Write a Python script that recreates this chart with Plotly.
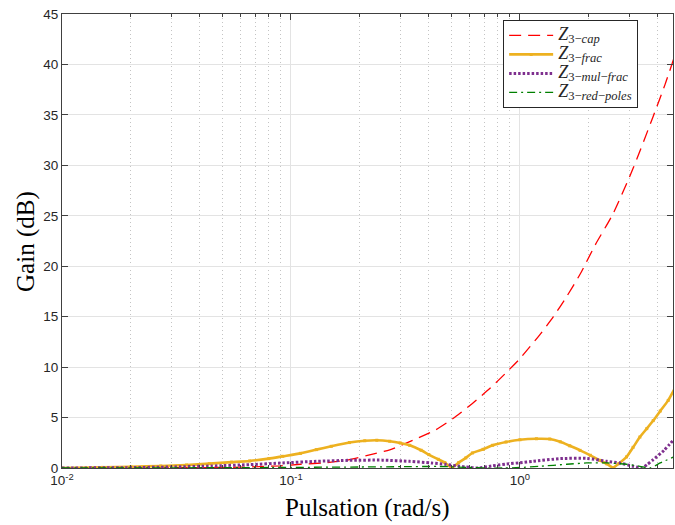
import plotly.graph_objects as go
import numpy as np

# ---- data ----
w_cap = [0.01, 0.02, 0.03, 0.045, 0.06, 0.073, 0.09, 0.11, 0.143, 0.18, 0.23, 0.27, 0.34,
         0.43, 0.51, 0.62, 0.74, 0.875, 1.0, 1.22, 1.4, 1.6, 1.83, 2.13, 2.55, 3.12, 3.81, 4.3, 4.75]
g_cap = [0.0, 0.01, 0.02, 0.05, 0.08, 0.14, 0.22, 0.37, 0.53, 0.83, 1.4, 1.8, 2.75,
         3.8, 4.9, 6.4, 7.9, 9.5, 10.85, 13.2, 15.0, 17.0, 19.2, 22.1, 25.2, 29.7, 34.8, 38.0, 40.9]

w_frac = [0.01, 0.015, 0.02, 0.027, 0.035, 0.044, 0.055, 0.066, 0.08, 0.092, 0.11, 0.129, 0.15,
          0.18, 0.21, 0.237, 0.27, 0.30, 0.33, 0.37, 0.40, 0.44, 0.47, 0.503, 0.54, 0.58, 0.62,
          0.69, 0.76, 0.87, 1.0, 1.18, 1.35, 1.5, 1.65, 1.83, 2.03, 2.23, 2.4, 2.55, 2.7, 2.92,
          3.12, 3.34, 3.58, 3.82, 4.1, 4.44, 4.75]
g_frac = [0.0, 0.06, 0.12, 0.2, 0.3, 0.43, 0.58, 0.7, 0.93, 1.16, 1.45, 1.82, 2.15,
          2.52, 2.7, 2.75, 2.65, 2.48, 2.25, 1.76, 1.33, 0.86, 0.53, 0.03, 0.53, 1.0, 1.49,
          1.85, 2.25, 2.58, 2.8, 2.9, 2.87, 2.6, 2.2, 1.75, 1.26, 0.76, 0.4, 0.03, 0.43, 1.1,
          2.05, 3.07, 3.9, 4.7, 5.65, 6.7, 7.9]

w_mul = [0.01, 0.02, 0.03, 0.045, 0.066, 0.092, 0.129, 0.18, 0.25, 0.33, 0.41, 0.47, 0.53,
         0.58, 0.66, 0.75, 0.875, 1.0, 1.14, 1.5, 1.96, 2.4, 2.73, 3.12, 3.4, 3.6, 3.82, 4.26, 4.75]
g_mul = [0.0, 0.04, 0.1, 0.2, 0.33, 0.5, 0.66, 0.76, 0.78, 0.66, 0.5, 0.37, 0.2,
         0.1, 0.0, 0.2, 0.4, 0.52, 0.66, 0.93, 0.95, 0.66, 0.5, 0.17, 0.0, 0.35, 0.83, 1.75, 2.95]

w_red = [0.01, 0.05, 0.1, 0.2, 0.3, 0.44, 0.62, 0.7, 0.85, 1.0, 1.22, 1.6, 1.96, 2.4,
         2.92, 3.34, 3.7, 4.1, 4.75]
g_red = [0.0, 0.03, 0.06, 0.1, 0.13, 0.15, 0.05, 0.0, 0.0, 0.05, 0.17, 0.37, 0.5, 0.5,
         0.37, 0.17, 0.0, 0.5, 1.15]

x_tickvals = [0.01, 0.1, 1]
x_ticktext = ["10<sup>-2</sup>", "10<sup>-1</sup>", "10<sup>0</sup>"]
x_minor = [0.02, 0.03, 0.04, 0.05, 0.06, 0.07, 0.08, 0.09,
           0.2, 0.3, 0.4, 0.5, 0.6, 0.7, 0.8, 0.9, 2, 3, 4]
y_tickvals = [0, 5, 10, 15, 20, 25, 30, 35, 40, 45]

sub_labels = ["cap", "frac", "mul</i>−<i>frac", "red</i>−<i>poles"]
names = ['<span style="font-size:18px"><i>Z</i><sub>3−<i>%s</i></sub></span>' % s for s in sub_labels]
x_title = "Pulsation (rad/s)"
y_title = "Gain (dB)"

fig = go.Figure()
fig.add_trace(go.Scatter(x=w_cap, y=g_cap, mode="lines", name=names[0],
                         line=dict(color="#FF0000", width=1.3, dash="12px,7px", shape="spline", smoothing=0.6)))
fig.add_trace(go.Scatter(x=w_frac, y=g_frac, mode="lines+markers", name=names[1],
                         line=dict(color="#EDB120", width=2.6, shape="spline", smoothing=0.5),
                         marker=dict(color="#EDB120", size=3, symbol="square")))
fig.add_trace(go.Scatter(x=w_mul, y=g_mul, mode="lines", name=names[2],
                         line=dict(color="#7E2F8E", width=3, dash="2.5px,2px", shape="spline", smoothing=0.6)))
fig.add_trace(go.Scatter(x=w_red, y=g_red, mode="lines", name=names[3],
                         line=dict(color="#008000", width=1.3, dash="8px,4px,2px,4px", shape="spline", smoothing=0.6)))

axis_font = dict(family="Liberation Sans, Arial", size=13.5, color="#262626")
fig.update_xaxes(type="log", range=[-2, np.log10(4.66)], automargin=False,
                 tickvals=x_tickvals, ticktext=x_ticktext, tickfont=axis_font,
                 ticklabeloverflow="allow",
                 ticks="inside", ticklen=6, tickcolor="#404040",
                 showline=True, linecolor="#404040", linewidth=1, mirror="ticks",
                 showgrid=True, gridcolor="#e3e3e3", gridwidth=1, zeroline=False,
                 minor=dict(tickvals=x_minor, ticks="inside", ticklen=3, tickcolor="#404040",
                            showgrid=True, gridcolor="#c4c4c4", griddash="1px,3px", gridwidth=1))
fig.update_yaxes(range=[0, 45], tickvals=y_tickvals, tickfont=axis_font, automargin=False,
                 ticklabeloverflow="allow",
                 ticks="inside", ticklen=6, tickcolor="#404040",
                 showline=True, linecolor="#404040", linewidth=1, mirror="ticks",
                 showgrid=True, gridcolor="#e3e3e3", gridwidth=1, zeroline=False)

title_font = dict(family="Liberation Serif, serif", size=25, color="#000")
fig.add_annotation(text=x_title, xref="paper", yref="paper", x=0.5, y=-0.088,
                   xanchor="center", yanchor="middle", showarrow=False, font=title_font)
fig.add_annotation(text=y_title, xref="paper", yref="paper", x=-0.059, y=0.5, textangle=-90,
                   xanchor="center", yanchor="middle", showarrow=False, font=title_font)

fig.update_layout(width=675, height=525, margin=dict(l=62, r=2, t=14, b=57),
                  plot_bgcolor="white", paper_bgcolor="white",
                  legend=dict(x=0.722, y=0.987, xanchor="left", yanchor="top",
                              bgcolor="white", bordercolor="#262626", borderwidth=1,
                              font=dict(family="Liberation Serif, serif", size=11, color="#262626"),
                              tracegroupgap=0, itemwidth=44))
fig.write_html("out.html", config={"displayModeBar": False},
               post_script="document.body.style.margin='0';document.body.style.overflow='hidden';")
